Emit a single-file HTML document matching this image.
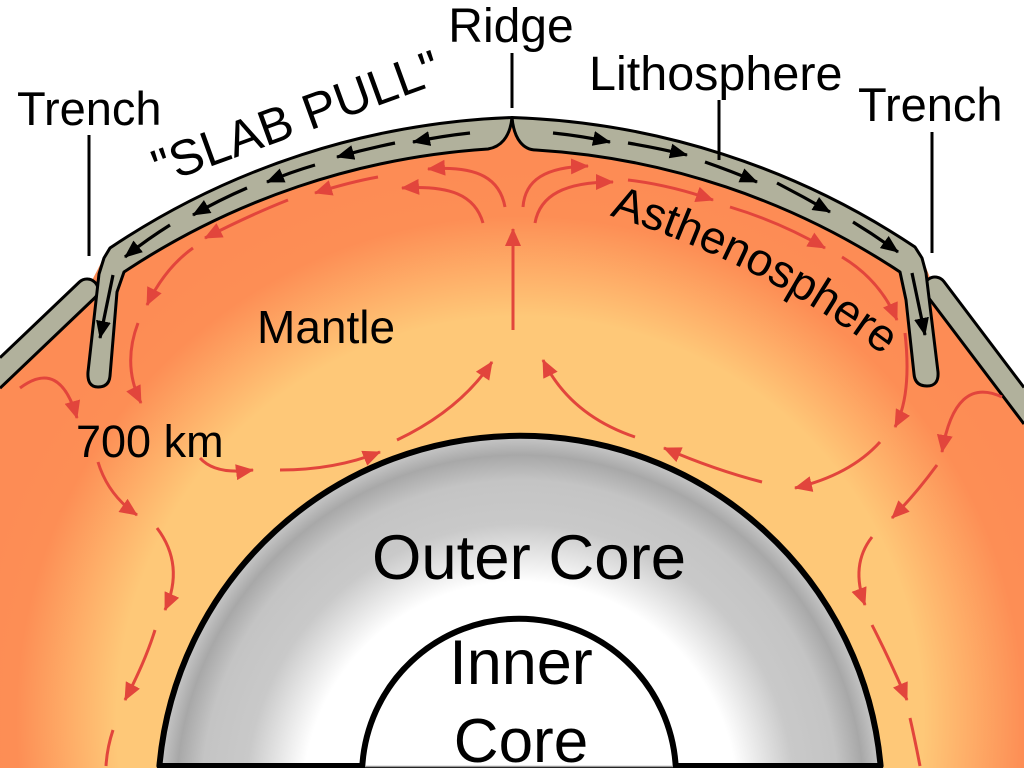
<!DOCTYPE html>
<html>
<head>
<meta charset="utf-8">
<style>
  html,body{margin:0;padding:0;background:#fff;width:1024px;height:768px;overflow:hidden;}
  svg{display:block;overflow:hidden;}
  text{font-family:"Liberation Sans",Arial,sans-serif;fill:#000;}
  .r{fill:none;stroke:#e2453c;stroke-width:3;marker-end:url(#ra);}
  .rn{fill:none;stroke:#e2453c;stroke-width:3;}
  .b{fill:none;stroke:#000;stroke-width:3.2;marker-end:url(#ba);}
</style>
</head>
<body>
<svg width="1024" height="768" viewBox="0 0 1024 768" xmlns="http://www.w3.org/2000/svg">
  <defs>
    <radialGradient id="mg" gradientUnits="userSpaceOnUse" cx="520" cy="720" r="560">
      <stop offset="0" stop-color="#fec878"/>
      <stop offset="0.72" stop-color="#fec878"/>
      <stop offset="0.9" stop-color="#fd8e55"/>
      <stop offset="1" stop-color="#fd8c55"/>
    </radialGradient>
    <radialGradient id="cg" gradientUnits="userSpaceOnUse" cx="520" cy="799" r="362">
      <stop offset="0" stop-color="#ffffff"/>
      <stop offset="0.6" stop-color="#ffffff"/>
      <stop offset="0.76" stop-color="#c9c9c9"/>
      <stop offset="0.88" stop-color="#c4c4c4"/>
      <stop offset="0.95" stop-color="#a8a8a8"/>
      <stop offset="1" stop-color="#c6c6c6"/>
    </radialGradient>
    <marker id="ra" viewBox="0 0 18 16" refX="17" refY="8" markerWidth="18" markerHeight="16" orient="auto" markerUnits="userSpaceOnUse">
      <path d="M0,0 L18,8 L0,16 Z" fill="#e2453c"/>
    </marker>
    <marker id="ba" viewBox="0 0 18 15" refX="17" refY="7.5" markerWidth="18" markerHeight="15" orient="auto" markerUnits="userSpaceOnUse">
      <path d="M0,0 L18,7.5 L0,15 Z" fill="#000"/>
    </marker>
    <path id="astPath" d="M493.7,188.4 A885,885 0 0 1 960,420"/>
  </defs>

  <rect x="0" y="0" width="1024" height="768" fill="#fff"/>

  <!-- Mantle -->
  <path d="M0,373 L87,290 L100,265 L110,248 A771,771 0 0 1 512,117.5 A771,771 0 0 1 915,247 L925,265 L935,290 L1024,408 L1024,768 L0,768 Z" fill="url(#mg)"/>

  <!-- Overriding plates -->
  <path d="M0,357.7 L79.4,282 A11,11 0 0 1 94.6,298 L0,388.2" fill="#b1b19c" stroke="#000" stroke-width="3" stroke-linejoin="round"/>
  <path d="M1024,424 L926.2,294.6 A11,11 0 0 1 943.8,281.4 L1024,387.5" fill="#b1b19c" stroke="#000" stroke-width="3" stroke-linejoin="round"/>

  <!-- Main plates -->
  <path d="M512,117.5 A771,771 0 0 0 110,248 L104,258 L99,274 L88,372 Q87,387 98,387 Q109,387 110,376 L117,292 L124,272 A745,745 0 0 1 488,149 C500,147 510,138 512,117.5 Z" fill="#b1b19c" stroke="#000" stroke-width="3" stroke-linejoin="round"/>
  <path d="M512,117.5 A771,771 0 0 1 915,247 L922,258 L926,273 L938,372 Q939,386 927,386 Q915,386 914,374 L906,300 L900,272 A740,740 0 0 0 536,150 C524,150 514,140 512,117.5 Z" fill="#b1b19c" stroke="#000" stroke-width="3" stroke-linejoin="round"/>

  <!-- Core -->
  <path d="M159.4,766 A362,362 0 0 1 880.6,766 Z" fill="url(#cg)" stroke="#000" stroke-width="6" stroke-linejoin="round"/>
  <path d="M362.3,766 A157,157 0 0 1 675.7,766" fill="#fff" stroke="#000" stroke-width="6"/>
  <line x1="365" y1="766.5" x2="673" y2="766.5" stroke="#999" stroke-width="1.5"/>

  <!-- Pointer lines -->
  <line x1="512" y1="53" x2="512" y2="108" stroke="#000" stroke-width="3"/>
  <line x1="89" y1="135" x2="89" y2="256" stroke="#000" stroke-width="3"/>
  <line x1="932" y1="132" x2="932" y2="253" stroke="#000" stroke-width="3"/>
  <line x1="719" y1="100" x2="719" y2="160" stroke="#000" stroke-width="3"/>

  <!-- Black plate arrows -->
  <path class="b" d="M470,133 Q442,136 413,142"/>
  <path class="b" d="M395,143 Q366,149 337,157"/>
  <path class="b" d="M315,165 Q291,172 267,182"/>
  <path class="b" d="M247,188 Q219,200 193,215"/>
  <path class="b" d="M170,225 Q146,240 125,257"/>
  <path class="b" d="M113,275 L100,338"/>
  <path class="b" d="M553,133 Q582,136 610,142"/>
  <path class="b" d="M628,143 Q658,148 687,155"/>
  <path class="b" d="M705,162 Q731,171 757,182"/>
  <path class="b" d="M777,183 Q804,197 830,212"/>
  <path class="b" d="M853,222 Q876,236 898,252"/>
  <path class="b" d="M912,273 L925,335"/>

  <!-- Red convection arrows: left cell -->
  <path class="r" d="M505,207 C500,180 480,165 428,169"/>
  <path class="r" d="M483,223 C475,195 450,185 402,188"/>
  <path class="r" d="M523,207 C525,180 545,167 588,166"/>
  <path class="r" d="M535,223 C540,195 565,182 613,182"/>
  <path class="r" d="M513,330 L513,229"/>
  <path class="r" d="M378,177 Q350,182 315,193"/>
  <path class="r" d="M288,200 Q250,215 205,238"/>
  <path class="r" d="M193,248 Q165,268 147,305"/>
  <path class="r" d="M138,323 Q122,365 141,403"/>
  <path class="r" d="M20,388 Q60,358 77,418"/>
  <path class="r" d="M98,462 Q108,495 137,515"/>
  <path class="r" d="M157,528 Q185,565 165,610"/>
  <path class="r" d="M155,630 Q145,662 125,700"/>
  <path class="rn" d="M113,730 Q107,748 106,766"/>
  <path class="r" d="M200,458 Q215,475 253,470"/>
  <path class="r" d="M280,470 Q335,470 380,452"/>
  <path class="r" d="M397,440 Q460,410 492,362"/>

  <!-- Red convection arrows: right cell -->
  <path class="r" d="M628,180 Q670,185 713,200"/>
  <path class="r" d="M730,207 Q780,222 825,248"/>
  <path class="r" d="M842,257 Q880,280 897,320"/>
  <path class="r" d="M905,333 Q912,395 895,427"/>
  <path class="r" d="M880,442 Q850,475 795,488"/>
  <path class="r" d="M762,482 Q715,470 664,448"/>
  <path class="r" d="M635,437 Q570,415 543,360"/>
  <path class="r" d="M1002,397 Q955,375 942,452"/>
  <path class="r" d="M937,465 Q915,495 892,518"/>
  <path class="r" d="M872,537 Q850,565 865,605"/>
  <path class="r" d="M872,625 Q890,660 907,700"/>
  <path class="rn" d="M910,718 Q915,740 920,766"/>

  <!-- Labels -->
  <text x="511" y="42" text-anchor="middle" font-size="48">Ridge</text>
  <text x="17" y="125" font-size="47">Trench</text>
  <text x="858" y="121" font-size="47">Trench</text>
  <text x="589" y="90" font-size="48.5">Lithosphere</text>
  <text x="257" y="343" font-size="46">Mantle</text>
  <text x="76" y="457" font-size="45">700 km</text>
  <text transform="translate(160,185) rotate(-20)" x="0" y="0" font-size="50">"SLAB PULL"</text>
  <text font-size="46"><textPath href="#astPath" startOffset="119">Asthenosphere</textPath></text>
  <text x="529" y="579" text-anchor="middle" font-size="63.5">Outer Core</text>
  <text x="521" y="684" text-anchor="middle" font-size="63">Inner</text>
  <text x="521" y="762" text-anchor="middle" font-size="62">Core</text>
</svg>
</body>
</html>
